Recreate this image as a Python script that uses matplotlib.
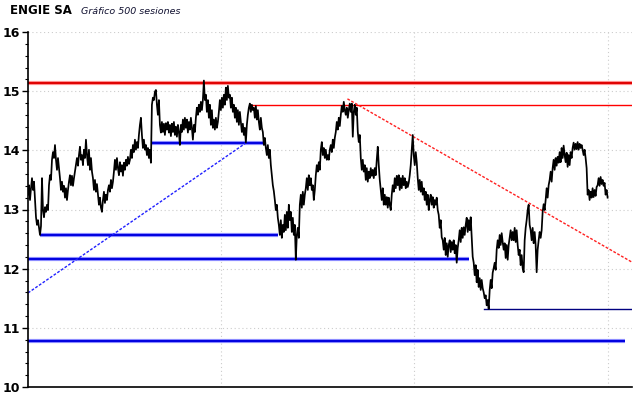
import numpy as np
import matplotlib
matplotlib.use("Agg")
import matplotlib.pyplot as plt

# Cierres (aprox. una lectura por pixel, 500 sesiones)
cierres = [
    13.25, 13.41, 13.16, 13.36, 13.53, 13.33, 13.47, 13.16, 12.87, 12.74, 12.82, 12.69, 12.57, 12.72, 13.53, 12.99,
    12.87, 13.04, 12.96, 13.08, 12.99, 13.41, 13.58, 13.50, 13.84, 13.97, 13.87, 14.09, 13.84, 13.67, 13.87, 13.70,
    13.53, 13.33, 13.47, 13.30, 13.40, 13.20, 13.36, 13.16, 13.33, 13.47, 13.58, 13.41, 13.57, 13.40, 13.53, 13.64,
    13.75, 13.87, 13.74, 13.92, 14.06, 13.84, 13.92, 13.75, 14.01, 13.87, 14.18, 13.92, 13.75, 14.01, 13.67, 13.87,
    13.64, 13.53, 13.33, 13.50, 13.30, 13.43, 13.25, 13.08, 13.20, 13.03, 12.96, 13.16, 13.30, 13.11, 13.25, 13.16,
    13.33, 13.41, 13.30, 13.50, 13.36, 13.47, 13.64, 13.84, 13.67, 13.87, 13.70, 13.58, 13.80, 13.64, 13.75, 13.57,
    13.79, 13.67, 13.84, 13.74, 13.89, 13.77,
    13.84, 14.01, 13.87, 14.09, 13.97, 14.18, 14.01, 14.14, 14.04, 14.26, 14.43, 14.55, 14.26, 14.04, 14.18, 14.01,
    14.09, 13.92, 14.04, 13.87, 14.01, 13.79, 14.77, 14.89, 14.85, 14.99, 15.02, 14.77, 14.60, 14.85, 14.43, 14.30,
    14.48, 14.31, 14.45, 14.26, 14.46, 14.35, 14.48, 14.30, 14.43, 14.24, 14.45, 14.31, 14.48, 14.26, 14.40, 14.23,
    14.43, 14.31, 14.09, 14.43, 14.31, 14.52, 14.35, 14.55, 14.38, 14.52, 14.30, 14.48, 14.35, 14.55, 14.38, 14.18,
    14.43, 14.31, 14.55, 14.72, 14.60, 14.77, 14.65, 14.82, 14.68, 14.85, 15.18, 14.85, 14.94, 14.65, 14.85, 14.55,
    14.77, 14.43, 14.68, 14.38, 14.52, 14.35, 14.55, 14.38, 14.48, 14.65, 14.85, 14.68, 14.89, 14.72, 14.94, 14.77,
    15.06, 14.85,
    15.09, 14.89, 14.94, 14.72, 14.89, 14.65, 14.77, 14.55, 14.72, 14.48, 14.68, 14.43, 14.65, 14.48, 14.31, 14.45,
    14.26, 14.38, 14.13, 14.43, 14.60, 14.72, 14.79, 14.65, 14.77, 14.68, 14.72, 14.55, 14.75, 14.52, 14.68, 14.48,
    14.35, 14.55, 14.38, 14.31, 14.09, 14.21, 14.04, 13.92, 14.09, 13.87, 14.01, 13.75, 13.58, 13.41, 13.31, 13.16,
    12.99, 13.08, 12.86, 12.74, 12.57, 12.82, 12.52, 12.74, 12.62, 12.91, 12.65, 12.96, 12.69, 13.08, 12.82, 12.96,
    12.62, 12.86, 12.57, 12.74, 12.15, 12.57, 12.69, 12.52, 13.08, 13.25, 13.03, 13.30, 13.08, 13.25, 13.36, 13.53,
    13.33, 13.58, 13.41, 13.53, 13.33, 13.41, 13.16, 13.33, 13.58, 13.75, 13.64, 13.80, 13.67, 14.01, 14.14, 13.92,
    14.04, 13.87, 14.01, 13.84,
    13.92, 13.84, 14.01, 14.09, 13.97, 14.18, 14.04, 14.21, 14.31, 14.48, 14.35, 14.55, 14.41, 14.60, 14.75, 14.65,
    14.82, 14.68, 14.60, 14.72, 14.55, 14.68, 14.79, 14.65, 14.79, 14.23, 14.65, 14.77, 14.60, 14.72, 14.31, 14.14,
    14.26, 13.87, 13.67, 13.84, 13.64, 13.75, 13.50, 13.70, 13.47, 13.64, 13.53, 13.70, 13.57, 13.67, 13.53, 13.70,
    13.58, 13.84, 14.06, 13.75, 13.50, 13.33, 13.16, 13.36, 13.08, 13.25, 13.08, 13.21, 13.03, 13.20, 13.08, 12.99,
    13.25, 13.41, 13.30, 13.53, 13.36, 13.57, 13.41, 13.58, 13.33, 13.53, 13.36, 13.57, 13.41, 13.53, 13.36, 13.47,
    13.38, 13.45, 13.58, 13.75, 14.01, 14.26, 13.92, 13.75, 13.97, 13.80, 13.53, 13.33, 13.50, 13.30, 13.47, 13.25,
    13.36, 13.16, 13.30, 13.08, 13.25, 12.99,
    13.16, 13.25, 13.08, 13.21, 13.03, 13.16, 13.08, 13.20, 12.99, 12.91, 12.69, 12.82, 12.53, 12.48, 12.32, 12.52,
    12.23, 12.43, 12.20, 12.40, 12.48, 12.28, 12.45, 12.32, 12.48, 12.26, 12.40, 12.10, 12.35, 12.48, 12.65, 12.45,
    12.69, 12.52, 12.70, 12.57, 12.74, 12.86, 12.62, 12.82, 12.65, 12.87, 12.53, 12.20, 12.10, 11.89, 12.06, 11.77,
    11.98, 11.69, 11.84, 11.64, 11.81, 11.67, 11.60, 11.50, 11.55, 11.38, 11.47, 11.32, 11.64, 11.81, 11.67, 11.93,
    12.01, 12.10, 11.98, 12.32, 12.48, 12.35, 12.57, 12.40, 12.60, 12.45, 12.32, 12.43, 12.18, 12.40, 12.15, 12.40,
    12.52, 12.65, 12.48, 12.62, 12.48, 12.69, 12.45, 12.65, 12.40, 12.23, 12.32, 12.06, 12.23, 12.01, 11.94, 12.48,
    12.69, 12.82, 12.99,
    13.08, 12.74, 12.65, 12.48, 12.69, 12.43, 12.62, 12.40, 11.94, 12.32, 12.48, 12.62, 12.52, 12.65, 12.96, 13.09,
    12.99, 13.16, 13.36, 13.20, 13.41, 13.50, 13.64, 13.47, 13.70, 13.84, 13.67, 13.87, 13.74, 13.89, 13.79, 13.97,
    13.80, 14.04, 13.87, 14.08, 13.92, 13.80, 13.96, 13.72, 13.92, 13.75, 13.97, 13.87, 14.04, 14.13, 14.01, 14.11,
    14.02, 14.14, 14.01, 14.11, 14.04, 14.09, 14.01, 13.92, 14.01, 13.87, 13.70, 13.25, 13.33, 13.16, 13.30, 13.20,
    13.36, 13.21, 13.33, 13.23, 13.38, 13.41, 13.53, 13.40, 13.55, 13.43, 13.50, 13.40, 13.45, 13.25, 13.33, 13.20,
]
n_sesiones = 500

# Soportes / resistencias horizontales: (nivel, sesion inicio, sesion fin)
resist_gruesa = (15.13, 0, 520)
resist_fina = (14.77, 191, 520)
soportes_azules = [(14.12, 107, 202), (12.57, 10, 215), (12.16, 0, 380), (10.77, 0, 514)]
soporte_minimo = (11.32, 393, 520)

# Directrices (sesion, precio)
directriz_bajista = ([275, 520], [14.87, 12.11])
directriz_alcista = ([0, 188], [11.59, 14.13])

sesiones_grid = [166, 332, 499]

fig = plt.figure(figsize=(6.4, 3.98), dpi=100)
ax = fig.add_axes([28 / 640, 11 / 398, 604 / 640, 355 / 398])

x = np.linspace(0, n_sesiones - 1, len(cierres))

# grid
for v in range(11, 17):
    ax.axhline(v, color="#cccccc", lw=0.8, ls=(0, (1, 2.5)), zorder=0)
for s in sesiones_grid:
    ax.axvline(s, color="#cccccc", lw=0.8, ls=(0, (1, 2.5)), zorder=0)

# niveles
nivel, a, b = resist_gruesa
ax.plot([a, b], [nivel, nivel], color="#ff9090", lw=3.0, solid_capstyle="butt", zorder=2)
ax.plot([a, b], [nivel, nivel], color="#e00000", lw=1.4, solid_capstyle="butt", zorder=2)
nivel, a, b = resist_fina
ax.plot([a, b], [nivel, nivel], color="#ff0000", lw=1.0, zorder=2)
for nivel, a, b in soportes_azules:
    ax.plot([a, b], [nivel, nivel], color="#8c8cff", lw=3.0, solid_capstyle="butt", zorder=2)
    ax.plot([a, b], [nivel, nivel], color="#0000e0", lw=1.4, solid_capstyle="butt", zorder=2)
nivel, a, b = soporte_minimo
ax.plot([a, b], [nivel, nivel], color="#000080", lw=1.0, zorder=2)

ax.plot(*directriz_bajista, color="#ff2020", lw=1.0, ls=(0, (2, 1.2)), zorder=2)
ax.plot(*directriz_alcista, color="#2020ff", lw=1.0, ls=(0, (2, 1.2)), zorder=2)

# precio
ax.plot(x, cierres, color="black", lw=1.25, zorder=3)

ax.set_xlim(0, 520)
ax.set_ylim(10, 16)
ax.set_yticks(range(10, 17))
ax.set_yticks(np.arange(10, 16.01, 0.2), minor=True)
ax.set_xticks([])
for lab in ax.get_yticklabels():
    lab.set_fontweight("bold")
ax.tick_params(axis="y", which="major", length=4, width=1, pad=1.5, labelsize=9)
ax.tick_params(axis="y", which="minor", length=2, width=0.8)
ax.spines["top"].set_visible(False)
ax.spines["right"].set_visible(False)
ax.spines["left"].set_linewidth(1.2)
ax.spines["bottom"].set_linewidth(1.2)

fig.text(10 / 640, 1 - 11 / 398, "ENGIE SA", fontsize=8.5, fontweight="bold", va="center")
fig.text(81 / 640, 1 - 11 / 398, "Gráfico 500 sesiones", fontsize=6.8, style="italic",
         color="#101030", va="center")

fig.savefig("out.png", dpi=100)
